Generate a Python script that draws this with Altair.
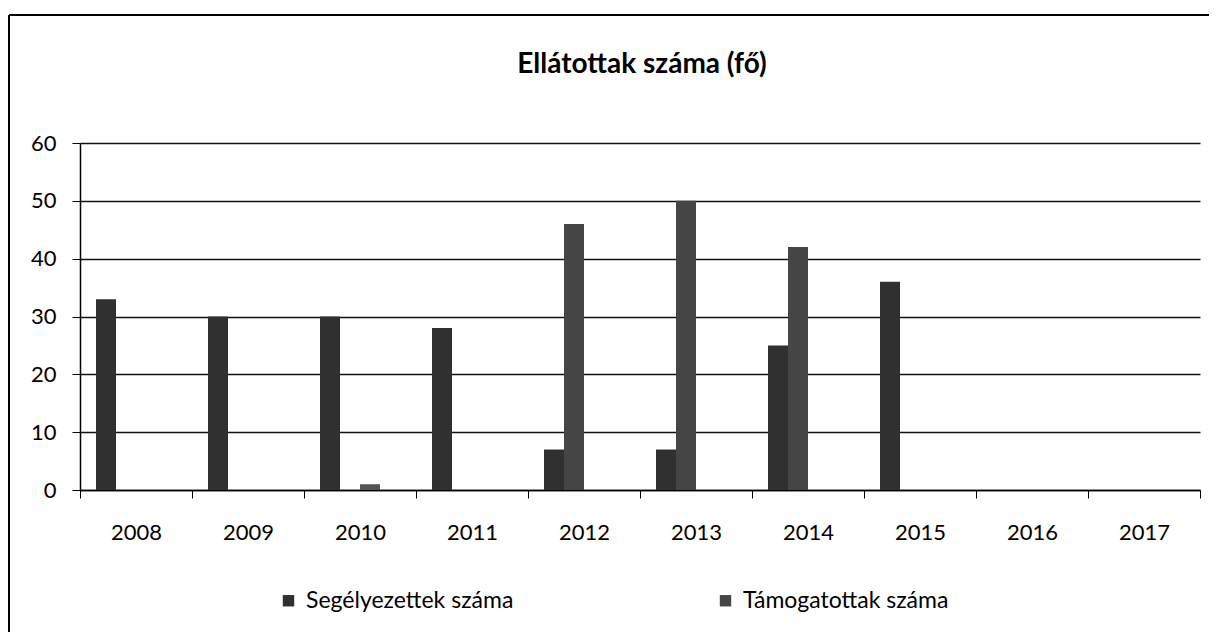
import altair as alt
import pandas as pd

title_text = "Ellátottak száma (fő)"
years = ["2008", "2009", "2010", "2011", "2012", "2013", "2014", "2015", "2016", "2017"]
segelyezettek = [33, 30, 30, 28, 7, 7, 25, 36, 0, 0]
tamogatottak = [0, 0, 0, 0, 46, 50, 42, 0, 0, 0]
harmadik = [0, 0, 1, 0, 0, 0, 0, 0, 0, 0]

s1 = "Segélyezettek száma"
s2 = "Támogatottak száma"
s3 = "Egyéb"
s4 = "Egyéb 2"

rows = []
for i, y in enumerate(years):
    rows.append({"year": y, "series": s1, "value": segelyezettek[i]})
    rows.append({"year": y, "series": s2, "value": tamogatottak[i]})
    rows.append({"year": y, "series": s3, "value": harmadik[i]})
df = pd.DataFrame(rows)

FONT = "Lato"

bars = alt.Chart(df).mark_bar().encode(
    x=alt.X("year:N", sort=years,
            scale=alt.Scale(paddingInner=0, paddingOuter=0),
            axis=alt.Axis(title=None, labelAngle=0, tickBand="extent", tickSize=8,
                          labelFontSize=22, labelFont=FONT, labelColor="#000",
                          domainColor="#000", tickColor="#000", labelPadding=24,
                          domainWidth=1.5, grid=False)),
    xOffset=alt.XOffset("series:N", sort=[s1, s2, s3, s4],
                        scale=alt.Scale(domain=[s1, s2, s3, s4], paddingInner=0, paddingOuter=0.8)),
    y=alt.Y("value:Q", scale=alt.Scale(domain=[0, 60]),
            axis=alt.Axis(title=None, values=[0, 10, 20, 30, 40, 50, 60], tickSize=8,
                          labelFontSize=22, labelFont=FONT, labelColor="#000",
                          domainColor="#000", tickColor="#000", labelPadding=16,
                          domainWidth=1.5, gridColor="#111", gridWidth=1.3)),
    color=alt.Color("series:N",
                    scale=alt.Scale(domain=[s1, s2, s3], range=["#303030", "#454545", "#555555"]),
                    legend=alt.Legend(values=[s1, s2], title=None, orient="none",
                                      legendX=197, legendY=446, direction="horizontal",
                                      columnPadding=200, symbolType="square", symbolSize=130,
                                      symbolStrokeWidth=0,
                                      labelFontSize=23, labelFont=FONT, labelColor="#000",
                                      labelOffset=6, labelLimit=400)),
)

title = alt.Chart(pd.DataFrame({"t": [title_text]})).mark_text(
    font=FONT, fontSize=28, fontWeight="bold", color="#000", align="center", baseline="alphabetic"
).encode(text="t:N", x=alt.value(562), y=alt.value(-70))

frame_top = alt.Chart(df).mark_rule(stroke="#000", strokeWidth=1.6).encode(
    x=alt.value(-71), x2=alt.value(1137), y=alt.value(-128)
)
frame_left = alt.Chart(df).mark_rule(stroke="#000", strokeWidth=1.6).encode(
    x=alt.value(-71), y=alt.value(-128), y2=alt.value(510)
)

chart = alt.layer(frame_top, frame_left, title, bars).properties(
    width=1120, height=347,
    autosize=alt.AutoSizeParams(type="none"),
    padding={"left": 72, "top": 135, "right": 9, "bottom": 142},
).configure_view(stroke=None)

chart.save("out.html", embed_options={"renderer": "svg", "actions": False})
